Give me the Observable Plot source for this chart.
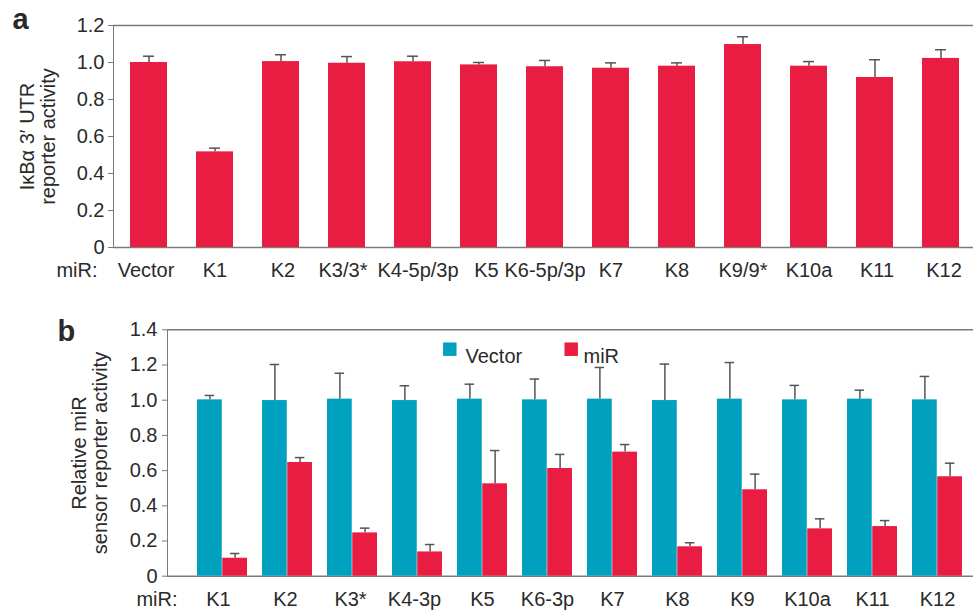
<!DOCTYPE html>
<html><head><meta charset="utf-8">
<script src="https://cdn.jsdelivr.net/npm/d3@7"></script>
<script src="https://cdn.jsdelivr.net/npm/@observablehq/plot@0.6"></script>
<style>
body{margin:0;background:#fff;overflow:hidden;font-family:"Liberation Sans",Arial,sans-serif;}
#a svg,#b svg{display:block;}
#a text,#b text{fill:#2a2a2a;}
</style></head><body>
<div id="a"></div><div id="b"></div>
<script>
// Panel a
const catsA = ["Vector","K1","K2","K3/3*","K4-5p/3p","K5","K6-5p/3p","K7","K8","K9/9*","K10a","K11","K12"];
const meanA = [1.0,0.517,1.005,0.996,1.004,0.987,0.977,0.969,0.98,1.097,0.98,0.919,1.022];
const errA  = [1.034,0.537,1.042,1.032,1.034,1.0,1.011,0.998,0.998,1.139,1.005,1.015,1.069];
const yTicksA = [0,0.2,0.4,0.6,0.8,1.0,1.2];
const titleA = "IκBα 3′ UTR\nreporter activity";

// Panel b
const catsB = ["K1","K2","K3*","K4-3p","K5","K6-3p","K7","K8","K9","K10a","K11","K12"];
const seriesB = ["Vector","miR"];
const vectorB    = [1.002,0.998,1.006,0.998,1.006,1.002,1.006,0.998,1.006,1.002,1.006,1.002];
const vectorErrB = [1.027,1.203,1.153,1.082,1.091,1.12,1.186,1.205,1.214,1.084,1.057,1.135];
const mirB       = [0.102,0.646,0.246,0.138,0.525,0.612,0.705,0.167,0.491,0.269,0.282,0.565];
const mirErrB    = [0.129,0.674,0.273,0.18,0.714,0.692,0.748,0.19,0.58,0.326,0.316,0.642];
const yTicksB = [0,0.2,0.4,0.6,0.8,1.0,1.2,1.4];
const titleB = "Relative miR\nsensor reporter activity";

const RED = "#E91C41", TEAL = "#00A0BF", AX = "#7a7a7a", ERR = "#555";
const FONT = "Liberation Sans, Arial, sans-serif";
const FS = 20;
const fmt = d => d === 0 ? "0" : d.toFixed(1);

// category labels as text marks (label nudges, in px, for the crowded ones)
function labelMarks(cats, nudges, dy) {
  const groups = d3.group(cats, c => nudges[c] || 0);
  return Array.from(groups, ([dx, list]) =>
    Plot.text(list, {x: d => d, text: d => d, frameAnchor: "bottom", dx, dy,
      lineAnchor: "top", fontSize: FS}));
}
function yLabels(ticks, dx) {
  return Plot.text(ticks, {y: d => d, text: fmt, frameAnchor: "left", dx,
    textAnchor: "end", lineAnchor: "middle", fontSize: FS});
}

const dataA = catsA.map((c, i) => ({cat: c, v: meanA[i], e: errA[i]}));

const plotA = Plot.plot({
  width: 973, height: 290,
  marginTop: 25, marginBottom: 43, marginLeft: 113, marginRight: 0,
  style: {fontFamily: FONT, fontSize: FS + "px", color: AX, background: "white"},
  x: {domain: catsA, range: [113, 976], paddingInner: 0.44, paddingOuter: 0.242,
      axis: null},
  y: {domain: [0, 1.2], ticks: yTicksA, tickFormat: () => "", tickSize: 5,
      label: null, line: true},
  marks: [
    Plot.ruleY([0, 1.2], {stroke: AX, strokeWidth: 1.5}),
    Plot.ruleX(dataA, {x: "cat", y1: "v", y2: "e", stroke: ERR, strokeWidth: 1.5}),
    Plot.tickY(dataA, {x: "cat", y: "e", stroke: ERR, strokeWidth: 1.5, insetLeft: 13, insetRight: 13}),
    Plot.barY(dataA, {x: "cat", y: "v", fill: RED}),
    yLabels(yTicksA, -9),
    ...labelMarks(catsA, {"Vector": -3, "K2": 2, "K3/3*": -4, "K4-5p/3p": 5, "K5": 7.5, "K11": 2, "K12": 3}, 15.5),
    Plot.text([titleA], {text: d => d, frameAnchor: "left", rotate: -90, dx: -76,
      lineHeight: 1.05, textAnchor: "middle", fontSize: FS}),
    Plot.text(["miR:"], {text: d => d, frameAnchor: "bottom-left", dx: -16, dy: 15.5,
      textAnchor: "end", lineAnchor: "top", fontSize: FS}),
    Plot.text(["a"], {text: d => d, frameAnchor: "top-left", dx: -101, dy: 3,
      textAnchor: "start", lineAnchor: "bottom", fontSize: 29, fontWeight: "bold"})
  ]
});
document.getElementById("a").append(plotA);

const dataB = catsB.flatMap((c, i) => [
  {cat: c, s: "Vector", v: vectorB[i], e: vectorErrB[i]},
  {cat: c, s: "miR", v: mirB[i], e: mirErrB[i]}
]);
const vec = dataB.filter(d => d.s === "Vector");
const mir = dataB.filter(d => d.s === "miR");
const HALF = 25.25, OFF = 12.6;

const plotB = Plot.plot({
  width: 973, height: 321,
  marginTop: 39.3, marginBottom: 35.3, marginLeft: 167, marginRight: 0,
  style: {fontFamily: FONT, fontSize: FS + "px", color: AX, background: "white"},
  x: {domain: catsB, range: [167, 991], paddingInner: 0.235, paddingOuter: 0.36,
      axis: null},
  y: {domain: [0, 1.4], ticks: yTicksB, tickFormat: () => "", tickSize: 5,
      label: null, line: true},
  color: {domain: seriesB, range: [TEAL, RED]},
  marks: [
    Plot.ruleY([0, 1.4], {stroke: AX, strokeWidth: 1.5}),
    Plot.ruleX(vec, {x: "cat", y1: "v", y2: "e", dx: -OFF, stroke: ERR, strokeWidth: 1.5}),
    Plot.ruleX(mir, {x: "cat", y1: "v", y2: "e", dx: OFF, stroke: ERR, strokeWidth: 1.5}),
    Plot.tickY(vec, {x: "cat", y: "e", stroke: ERR, strokeWidth: 1.5, insetLeft: 7.6, insetRight: 32.9}),
    Plot.tickY(mir, {x: "cat", y: "e", stroke: ERR, strokeWidth: 1.5, insetLeft: 32.9, insetRight: 7.6}),
    Plot.barY(vec, {x: "cat", y: "v", fill: "s", insetRight: HALF}),
    Plot.barY(mir, {x: "cat", y: "v", fill: "s", insetLeft: HALF}),
    yLabels(yTicksB, -10),
    ...labelMarks(catsB, {"K1": -4, "K2": -2, "K3*": -2, "K4-3p": -3}, 16),
    Plot.dot(["Vector"], {frameAnchor: "top-left", dx: 282.3, dy: 19.4, symbol: "square", r: 7.6, fill: d => d, stroke: "none"}),
    Plot.text(["Vector"], {text: d => d, frameAnchor: "top-left", dx: 298, dy: 19.4, textAnchor: "start", fontSize: FS}),
    Plot.dot(["miR"], {frameAnchor: "top-left", dx: 403.7, dy: 19.4, symbol: "square", r: 7.6, fill: d => d, stroke: "none"}),
    Plot.text(["miR"], {text: d => d, frameAnchor: "top-left", dx: 416, dy: 19.4, textAnchor: "start", fontSize: FS}),
    Plot.text([titleB], {text: d => d, frameAnchor: "left", rotate: -90, dx: -78,
      lineHeight: 1.05, textAnchor: "middle", fontSize: FS}),
    Plot.text(["miR:"], {text: d => d, frameAnchor: "bottom-left", dx: 10, dy: 16,
      textAnchor: "end", lineAnchor: "top", fontSize: FS}),
    Plot.text(["b"], {text: d => d, frameAnchor: "top-left", dx: -110, dy: 10.7,
      textAnchor: "start", lineAnchor: "bottom", fontSize: 29, fontWeight: "bold"})
  ]
});
document.getElementById("b").append(plotB);
</script>
</body></html>
